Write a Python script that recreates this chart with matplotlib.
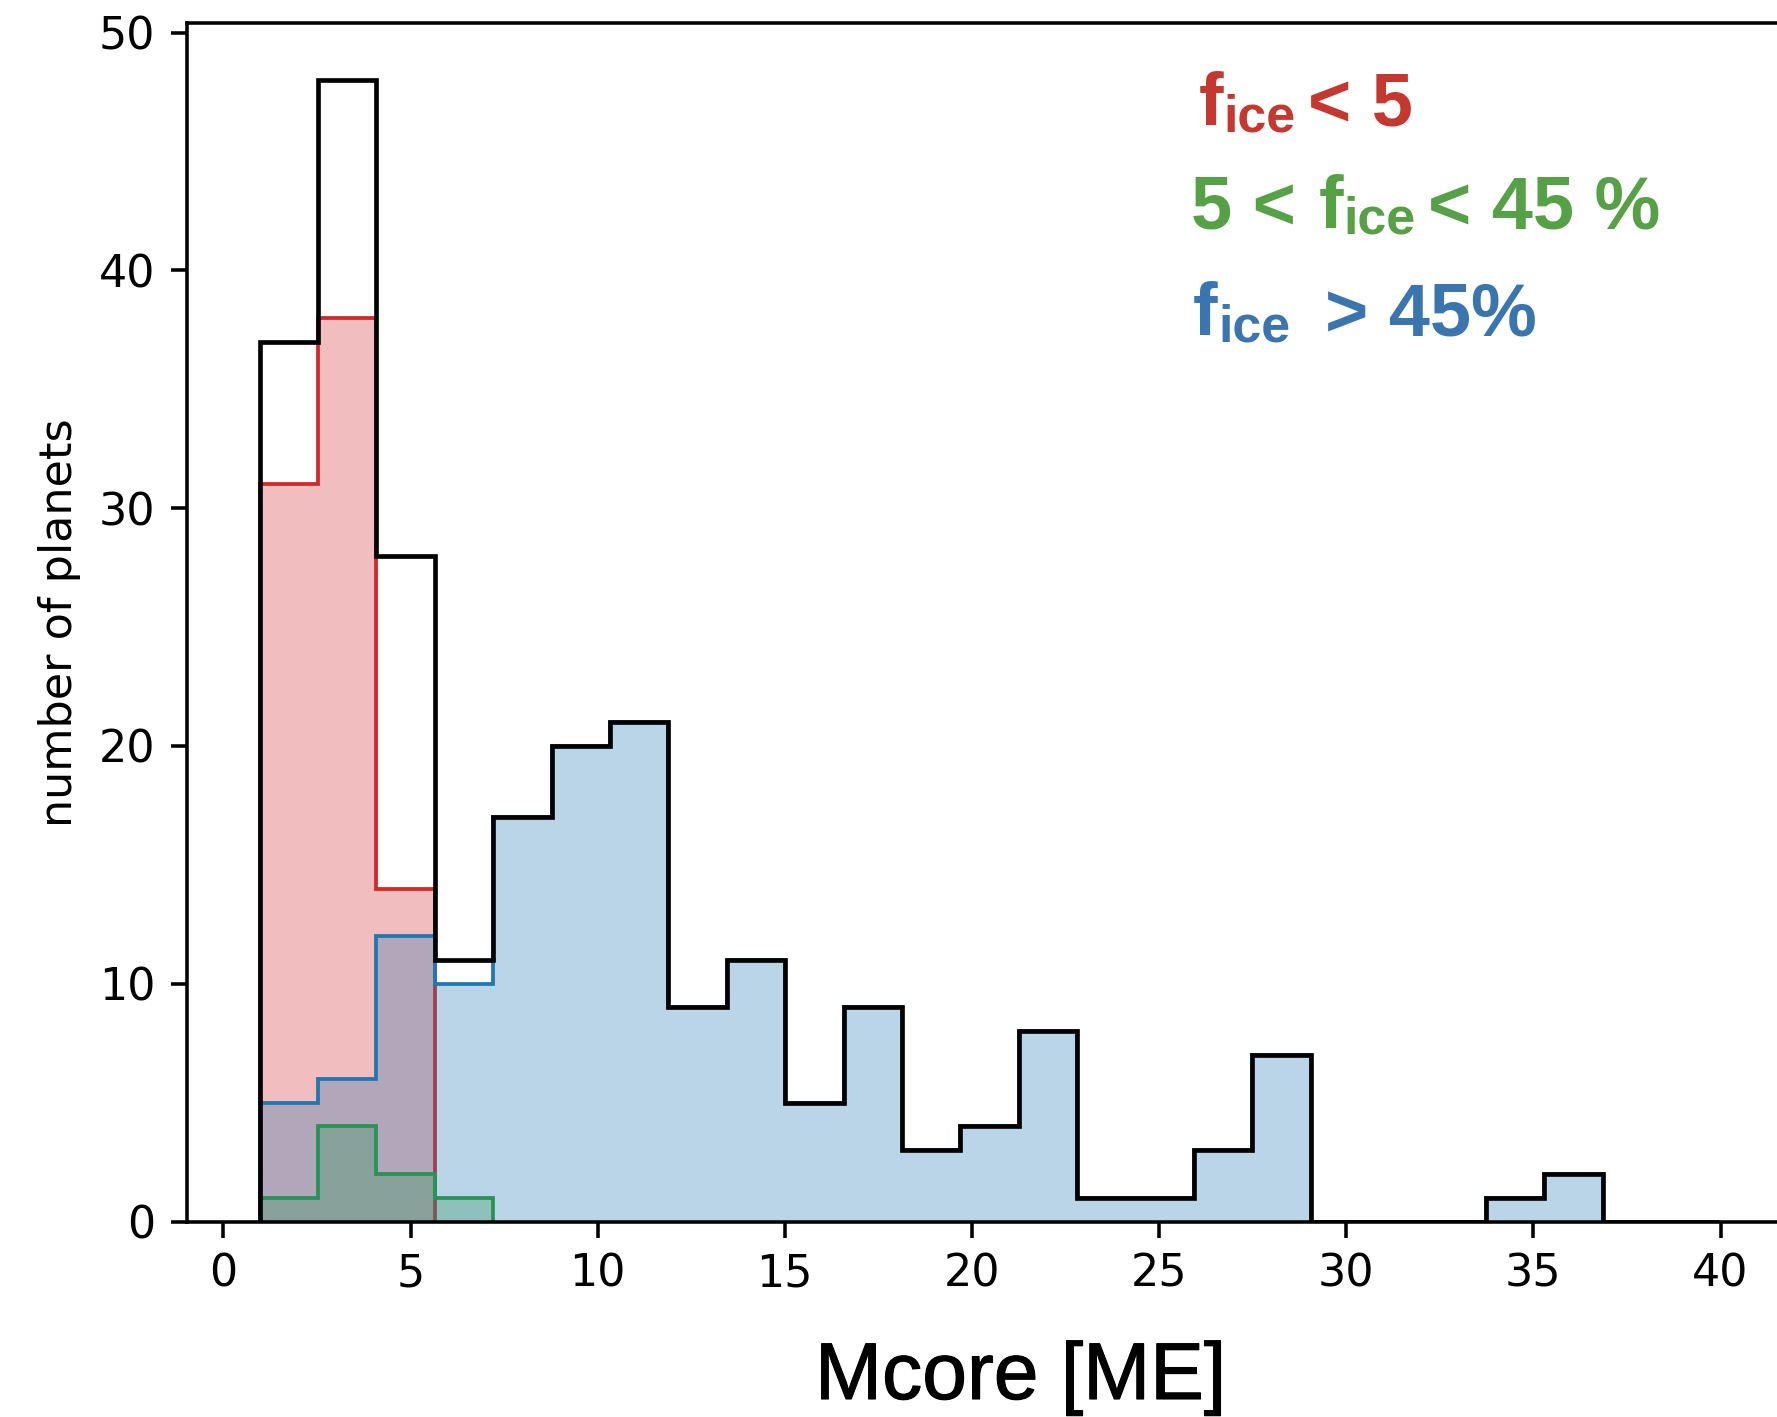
import numpy as np
import matplotlib
matplotlib.use('Agg')
import matplotlib.pyplot as plt
import matplotlib.patheffects as pe

# ── Data: counts per mass bin (Earth masses) ─────────────────────────────────
bin_start = 0.97
bin_width = 1.56
n_bins = 25

counts_rocky = [31, 38, 14]                       # f_ice < 5
counts_mixed = [1, 4, 2, 1]                       # 5 < f_ice < 45 %
counts_icy = [5, 6, 12, 10, 17, 20, 21, 9, 11, 5, 9, 3, 4, 8,
              1, 1, 3, 7, 0, 0, 0, 1, 2]          # f_ice > 45 %

edges = bin_start + bin_width * np.arange(n_bins + 1)

def padded(c):
    out = np.zeros(n_bins)
    out[:len(c)] = c
    return out

counts_total = padded(counts_rocky) + padded(counts_mixed) + padded(counts_icy)

# ── Figure geometry (pixels of the 1777x1417 output) ─────────────────────────
DPI = 320
W, H = 1777, 1417
XLIM = (-0.98, 41.92)
YLIM = (0, 50.4)
px_per_x = 37.43
ax_left, ax_top, ax_bottom = 186.7, 23.0, 1221.5
ax_width = (XLIM[1] - XLIM[0]) * px_per_x

fig = plt.figure(figsize=(W / DPI, H / DPI), dpi=DPI)
ax = fig.add_axes([ax_left / W, 1 - ax_bottom / H, ax_width / W,
                   (ax_bottom - ax_top) / H])

layers = [
    (counts_rocky, 'tab:red'),
    (counts_mixed, 'tab:green'),
    (counts_icy, 'tab:blue'),
]
for vals, col in layers:
    e = edges[:len(vals) + 1]
    ax.stairs(vals, e, fill=True, facecolor=col, alpha=0.3, linewidth=0)
    ax.stairs(vals, e, color=col, linewidth=0.85)

ax.stairs(counts_total, edges, color='black', linewidth=1.05)

ax.set_xlim(*XLIM)
ax.set_ylim(*YLIM)
ax.set_xticks(np.arange(0, 45, 5))
ax.set_yticks(np.arange(0, 60, 10))
ax.set_ylabel('number of planets')

# ── Annotations (added as pieces so the subscripts sit like the original) ────
def fx(px):
    return px / W

def fy(py):
    return 1 - py / H

MAIN, SUB = 16.65, 11.7
FONT = 'Liberation Sans'
red, green, blue = '#C4382F', '#56A146', '#3A75AF'

pieces = [
    # text, x px, baseline px, size, colour
    ('f', 1199, 125, MAIN, red),
    ('ice', 1223.4, 131, SUB, red),
    ('< 5', 1308, 125, MAIN, red),
    ('5 <', 1191, 228.5, MAIN, green),
    ('f', 1319, 228.5, MAIN, green),
    ('ice', 1343.4, 234, SUB, green),
    ('< 45 %', 1428, 228.5, MAIN, green),
    ('f', 1193, 335, MAIN, blue),
    ('ice', 1218.4, 341.5, SUB, blue),
    ('> 45%', 1325, 335, MAIN, blue),
]
for txt, x, y, size, col in pieces:
    fig.text(fx(x), fy(y), txt, fontsize=size, color=col, fontweight='bold',
             family=FONT, ha='left', va='baseline')

fig.text(fx(815), fy(1399), 'Mcore [ME]', fontsize=18.1, color='black',
         family=FONT, ha='left', va='baseline',
         path_effects=[pe.withStroke(linewidth=0.25, foreground='black')])

fig.savefig('out.png', dpi=DPI)
